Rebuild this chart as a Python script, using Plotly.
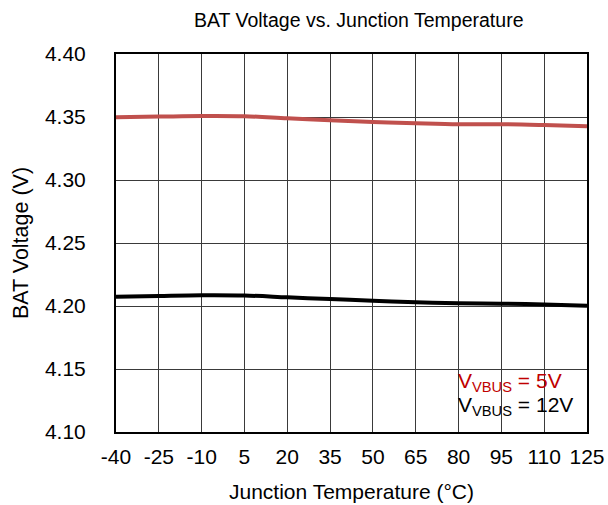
import plotly.graph_objects as go

# Junction temperature sweep (°C)
temp_c = [-40, -25, -10, 5, 20, 35, 50, 65, 80, 95, 110, 125]

# BAT regulation voltage (V) for each VBUS setting
vbat_5v = [4.3498, 4.3503, 4.3508, 4.3506, 4.3490, 4.3475, 4.3460, 4.3450, 4.3442, 4.3443, 4.3436, 4.3426]
vbat_12v = [4.2074, 4.2080, 4.2085, 4.2083, 4.2069, 4.2055, 4.2042, 4.2030, 4.2021, 4.2018, 4.2012, 4.2002]

x_ticks = [-40, -25, -10, 5, 20, 35, 50, 65, 80, 95, 110, 125]
y_ticks = [4.10, 4.15, 4.20, 4.25, 4.30, 4.35, 4.40]

font_family = "Liberation Sans, Arial, sans-serif"

fig = go.Figure()
fig.add_trace(go.Scatter(x=temp_c, y=vbat_5v, mode="lines", line=dict(color="#c0504d", width=4, shape="spline"),
                         showlegend=False))
fig.add_trace(go.Scatter(x=temp_c, y=vbat_12v, mode="lines", line=dict(color="#000000", width=4, shape="spline"),
                         showlegend=False))

# white panel behind the series labels, covering the grid
fig.add_shape(type="rect", xref="paper", yref="paper", x0=0.72, x1=0.998, y0=0.032, y1=0.164,
              fillcolor="white", line=dict(width=0), layer="between")

fig.add_annotation(x=0.722, y=0.133, xref="paper", yref="paper", xanchor="left", yanchor="middle",
                   text="V<sub>VBUS</sub> = 5V", showarrow=False,
                   font=dict(family=font_family, size=21, color="#c00000"))
fig.add_annotation(x=0.722, y=0.068, xref="paper", yref="paper", xanchor="left", yanchor="middle",
                   text="V<sub>VBUS</sub> = 12V", showarrow=False,
                   font=dict(family=font_family, size=21, color="#000000"))

fig.update_layout(
    width=608, height=505,
    margin=dict(l=116, r=21, t=54, b=73, autoexpand=False),
    paper_bgcolor="white", plot_bgcolor="white",
    font=dict(family=font_family, color="black"),
    title=dict(text="BAT Voltage vs. Junction Temperature", x=0.59, xanchor="center", y=0.96, yanchor="middle",
               font=dict(size=19.5, family=font_family, color="black")),
    xaxis=dict(range=[-40, 125], tickvals=x_ticks, ticktext=[str(v) for v in x_ticks],
               showgrid=True, gridcolor="#3a3a3a", gridwidth=1, zeroline=False,
               showline=True, linecolor="black", linewidth=2, mirror=True, automargin=False,
               ticks="", tickfont=dict(size=21), ticklabelstandoff=5,
               title=dict(text="Junction Temperature (°C)", font=dict(size=21), standoff=17)),
    yaxis=dict(range=[4.10, 4.40], tickvals=y_ticks, ticktext=[f"{v:.2f}" for v in y_ticks],
               showgrid=True, gridcolor="#3a3a3a", gridwidth=1, zeroline=False,
               showline=True, linecolor="black", linewidth=2, mirror=True, automargin=False,
               ticks="", tickfont=dict(size=21), ticklabelstandoff=24,
               title=dict(text="BAT Voltage (V)", font=dict(size=21.5), standoff=10)),
)

fig.write_html("out.html")
